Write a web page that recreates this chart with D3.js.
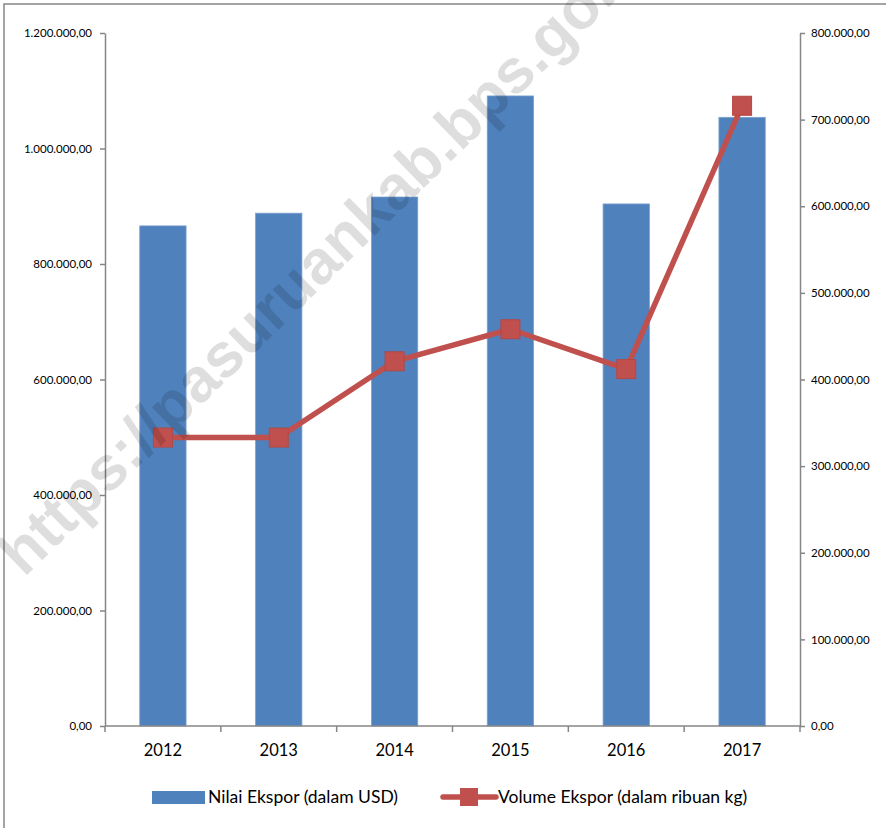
<!DOCTYPE html>
<html><head><meta charset="utf-8">
<script src="https://cdn.jsdelivr.net/npm/d3@7"></script>
<style>body{margin:0;background:#fff}svg{display:block}</style>
</head><body>
<svg id="c" width="886" height="828"></svg>
<script>
const years = ["2012","2013","2014","2015","2016","2017"];
const nilaiEkspor = [866000, 888000, 916000, 1091000, 904000, 1054000];
const volumeEkspor = [333000, 333000, 421000, 458000, 412000, 716000];
const leftTicks = [0, 200000, 400000, 600000, 800000, 1000000, 1200000];
const rightTicks = [0, 100000, 200000, 300000, 400000, 500000, 600000, 700000, 800000];
const seriesNames = ["Nilai Ekspor (dalam USD)", "Volume Ekspor (dalam ribuan kg)"];

const svg = d3.select("#c");
const font = "Lato, 'Open Sans', sans-serif";
const axisColor = "#868686";
const m = {left:105, right:800, top:33, bottom:726};

svg.append("rect").attr("x",4).attr("y",4).attr("width",900).attr("height",900)
  .attr("fill","#fff").attr("stroke",axisColor).attr("stroke-width",1.5);

const x = d3.scaleBand().domain(years).range([m.left, m.right]).paddingInner(0).paddingOuter(0);
const yL = d3.scaleLinear().domain([0,1200000]).range([m.bottom, m.top]);
const yR = d3.scaleLinear().domain([0,800000]).range([m.bottom, m.top]);
const fmt = v => d3.format(",.2f")(v).replace(/,/g,"#").replace(/\./g,",").replace(/#/g,".");

// bars
const bw = x.bandwidth()*0.4;
svg.append("g").selectAll("rect").data(years).join("rect")
  .attr("x", d => x(d) + x.bandwidth()/2 - bw/2)
  .attr("y", (d,i) => yL(nilaiEkspor[i]))
  .attr("width", bw)
  .attr("height", (d,i) => yL(0) - yL(nilaiEkspor[i]))
  .attr("fill", "#4F81BD").attr("stroke","#7DA0CF").attr("stroke-width",0.8);

// axes
function styleAxis(g){
  g.selectAll(".domain").attr("stroke",axisColor).attr("stroke-width",1.5);
  g.selectAll(".tick line").attr("stroke",axisColor).attr("stroke-width",1.5);
  g.selectAll("text").attr("fill","#000").style("font-family",font);
}
const gl = svg.append("g").attr("transform",`translate(${m.left},0)`)
  .call(d3.axisLeft(yL).tickValues(leftTicks).tickFormat(fmt).tickSize(5).tickSizeOuter(0).tickPadding(8));
styleAxis(gl); gl.selectAll("text").style("font-size","11.5px");
const gr = svg.append("g").attr("transform",`translate(${m.right},0)`)
  .call(d3.axisRight(yR).tickValues(rightTicks).tickFormat(fmt).tickSize(5).tickSizeOuter(0).tickPadding(6));
styleAxis(gr); gr.selectAll("text").style("font-size","11.5px");

const gx = svg.append("g").attr("transform",`translate(0,${m.bottom})`);
gx.append("line").attr("x1",m.left).attr("x2",m.right).attr("stroke",axisColor).attr("stroke-width",1.5);
const bounds = years.map(d => x(d)).concat([m.right]);
gx.selectAll("line.t").data(bounds).join("line").attr("class","t")
  .attr("x1",d=>d).attr("x2",d=>d).attr("y1",0).attr("y2",6).attr("stroke",axisColor).attr("stroke-width",1.5);
gx.selectAll("text").data(years).join("text")
  .attr("x", d => x(d)+x.bandwidth()/2).attr("y", 30)
  .attr("text-anchor","middle").style("font-family",font).style("font-size","16.5px").text(d=>d);

// line
const pts = years.map((d,i)=>[x(d)+x.bandwidth()/2, yR(volumeEkspor[i])]);
svg.append("path").attr("d", d3.line()(pts)).attr("fill","none")
  .attr("stroke","#C0504D").attr("stroke-width",5.5).attr("stroke-linejoin","round");
svg.append("g").selectAll("rect").data(pts).join("rect")
  .attr("x",d=>d[0]-9.5).attr("y",d=>d[1]-9.5).attr("width",19).attr("height",19)
  .attr("fill","#C0504D").attr("stroke","#B54744").attr("stroke-width",1);

// watermark
svg.append("text").attr("transform","translate(24,578) rotate(-44.3)")
  .style("font-family","'Liberation Sans', Arial, sans-serif").style("font-weight","bold")
  .style("font-size","62px").attr("fill","rgba(0,0,0,0.13)").text("https://pasuruankab.bps.go.id");

// legend
const lg = svg.append("g");
lg.append("rect").attr("x",152).attr("y",791).attr("width",53).attr("height",13).attr("fill","#4F81BD");
lg.append("text").attr("x",208).attr("y",803).style("font-family",font).style("font-size","17.5px").text(seriesNames[0]);
lg.append("line").attr("x1",443).attr("x2",496).attr("y1",797).attr("y2",797)
  .attr("stroke","#C0504D").attr("stroke-width",5.5).attr("stroke-linecap","round");
lg.append("rect").attr("x",460).attr("y",788).attr("width",18).attr("height",18).attr("fill","#C0504D");
lg.append("text").attr("x",498).attr("y",803).style("font-family",font).style("font-size","17.5px").text(seriesNames[1]);
</script>
</body></html>
